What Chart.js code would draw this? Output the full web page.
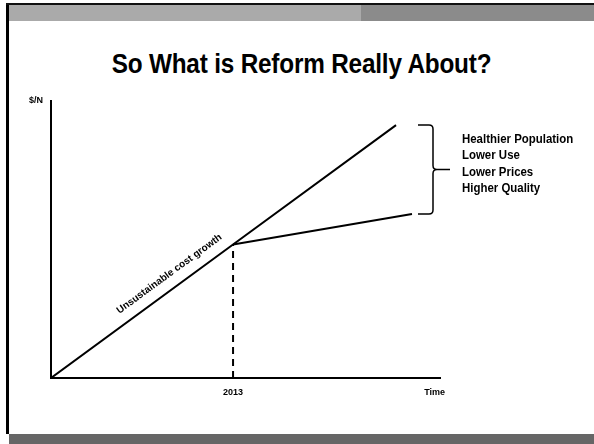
<!DOCTYPE html>
<html>
<head>
<meta charset="utf-8">
<script src="https://cdn.jsdelivr.net/npm/chart.js@4/dist/chart.umd.min.js"></script>
<style>
  html, body { margin: 0; padding: 0; background: #fff; }
  .slide { position: relative; width: 594px; height: 444px; overflow: hidden; background: #fff; }
  .slide canvas { position: absolute; left: 0; top: 0; }
  .edge-left { position: absolute; left: 6px; top: 3px; width: 3px; height: 431px; background: #000; }
  .edge-top { position: absolute; left: 6px; top: 3px; width: 588px; height: 2px; background: #111; }
  .band-light { position: absolute; left: 9px; top: 5px; width: 352px; height: 16px; background: #aaa; }
  .band-dark { position: absolute; left: 361px; top: 5px; width: 233px; height: 16px; background: #8b8b8b; }
  .band-foot { position: absolute; left: 9px; top: 434px; width: 585px; height: 10px; background: #666; }
  h1 {
    position: absolute; left: 0; top: 50px; width: 603px; margin: 0;
    text-align: center; font: bold 27px/28px "Liberation Sans", Arial, sans-serif; color: #000;
    transform: scaleX(0.9); transform-origin: 301.5px 0; letter-spacing: -0.2px;
  }
</style>
</head>
<body>
<div class="slide">
  <div class="edge-left"></div>
  <div class="edge-top"></div>
  <div class="band-light"></div>
  <div class="band-dark"></div>
  <div class="band-foot"></div>
  <h1>So What is Reform Really About?</h1>
  <canvas id="reform" width="594" height="444"></canvas>
</div>
<script>
// current trend: straight cost growth line
const costX = [0, 46.8, 88.7];
const costY = [0, 48.2, 91.3];
// bent curve after reform
const reformX = [46.8, 92.8];
const reformY = [48.2, 59.2];
const reformYear = 46.8;

const xTickValues = [46.8, 98.6];
const xTickLabels = ["2013", "Time"];
const yTickValues = [100];
const yTickLabels = ["$/N"];

const trendLabel = "Unsustainable cost growth";
const outcomes = ["Healthier Population", "Lower Use", "Lower Prices", "Higher Quality"];

const points = (xs, ys) => xs.map((x, i) => ({ x, y: ys[i] }));
const smallBold = { family: "'Liberation Sans', Arial, sans-serif", size: 9, weight: "bold" };

// rotated trend label, the brace and the outcome list
const braceNotes = {
  id: "braceNotes",
  afterDatasetsDraw(chart) {
    const { ctx, scales: { x, y } } = chart;
    const last = costX.length - 1;
    const x0 = x.getPixelForValue(costX[0]), y0 = y.getPixelForValue(costY[0]);
    const x1 = x.getPixelForValue(costX[last]), y1 = y.getPixelForValue(costY[last]);

    ctx.save();
    const t = 0.367;
    ctx.translate(x0 + (x1 - x0) * t, y0 + (y1 - y0) * t);
    ctx.rotate(Math.atan2(y1 - y0, x1 - x0));
    ctx.font = "bold 10px 'Liberation Sans', Arial, sans-serif";
    ctx.fillStyle = "#000";
    ctx.textAlign = "center";
    ctx.textBaseline = "middle";
    ctx.fillText(trendLabel, 0, -14);
    ctx.restore();

    const top = y1;
    const bottom = y.getPixelForValue(reformY[reformY.length - 1]);
    const mid = (top + bottom) / 2;
    const bx = x.right - 7;
    ctx.save();
    ctx.strokeStyle = "#000";
    ctx.lineWidth = 1.5;
    ctx.beginPath();
    ctx.moveTo(bx - 15, top);
    ctx.lineTo(bx - 4, top);
    ctx.quadraticCurveTo(bx, top, bx, top + 4);
    ctx.lineTo(bx, mid - 4);
    ctx.quadraticCurveTo(bx, mid, bx + 4, mid);
    ctx.lineTo(bx + 17, mid);
    ctx.moveTo(bx + 4, mid);
    ctx.quadraticCurveTo(bx, mid, bx, mid + 4);
    ctx.lineTo(bx, bottom - 4);
    ctx.quadraticCurveTo(bx, bottom, bx - 4, bottom);
    ctx.lineTo(bx - 15, bottom);
    ctx.stroke();

    // narrow-looking list: bold sans squeezed horizontally
    ctx.font = "bold 13px 'Liberation Sans', Arial, sans-serif";
    ctx.fillStyle = "#000";
    ctx.textAlign = "left";
    ctx.textBaseline = "middle";
    outcomes.forEach((line, i) => {
      ctx.save();
      ctx.translate(x.right + 22, top + 14.5 + i * 16.3);
      ctx.scale(0.88, 1);
      ctx.fillText(line, 0, 0);
      ctx.restore();
    });
    ctx.restore();
  }
};

new Chart(document.getElementById("reform"), {
  type: "scatter",
  data: {
    datasets: [
      { data: points(costX, costY), showLine: true, borderColor: "#000", borderWidth: 2, pointRadius: 0 },
      { data: points(reformX, reformY), showLine: true, borderColor: "#000", borderWidth: 2, pointRadius: 0 },
      { data: points([reformYear, reformYear], [0, reformY[0]]), showLine: true, borderColor: "#000", borderWidth: 2, borderDash: [7, 5], pointRadius: 0 }
    ]
  },
  options: {
    responsive: false,
    animation: false,
    layout: { padding: { top: 101, right: 154, bottom: 0, left: 0 }, autoPadding: false },
    plugins: { legend: { display: false }, tooltip: { enabled: false } },
    scales: {
      x: {
        type: "linear", min: 0, max: 100,
        grid: { display: false, drawTicks: false },
        border: { color: "#000", width: 2 },
        afterBuildTicks: (s) => { s.ticks = xTickValues.map((value) => ({ value })); },
        afterFit: (s) => { s.height = 66; },
        ticks: { padding: 9, color: "#000", font: smallBold, autoSkip: false, maxRotation: 0,
                 callback: (v, i) => xTickLabels[i] }
      },
      y: {
        type: "linear", min: 0, max: 100,
        grid: { display: false, drawTicks: false },
        border: { color: "#000", width: 2 },
        afterBuildTicks: (s) => { s.ticks = yTickValues.map((value) => ({ value })); },
        afterFit: (s) => { s.width = 51; },
        ticks: { padding: 8, color: "#000", font: smallBold, callback: (v, i) => yTickLabels[i] }
      }
    }
  },
  plugins: [braceNotes]
});
</script>
</body>
</html>
